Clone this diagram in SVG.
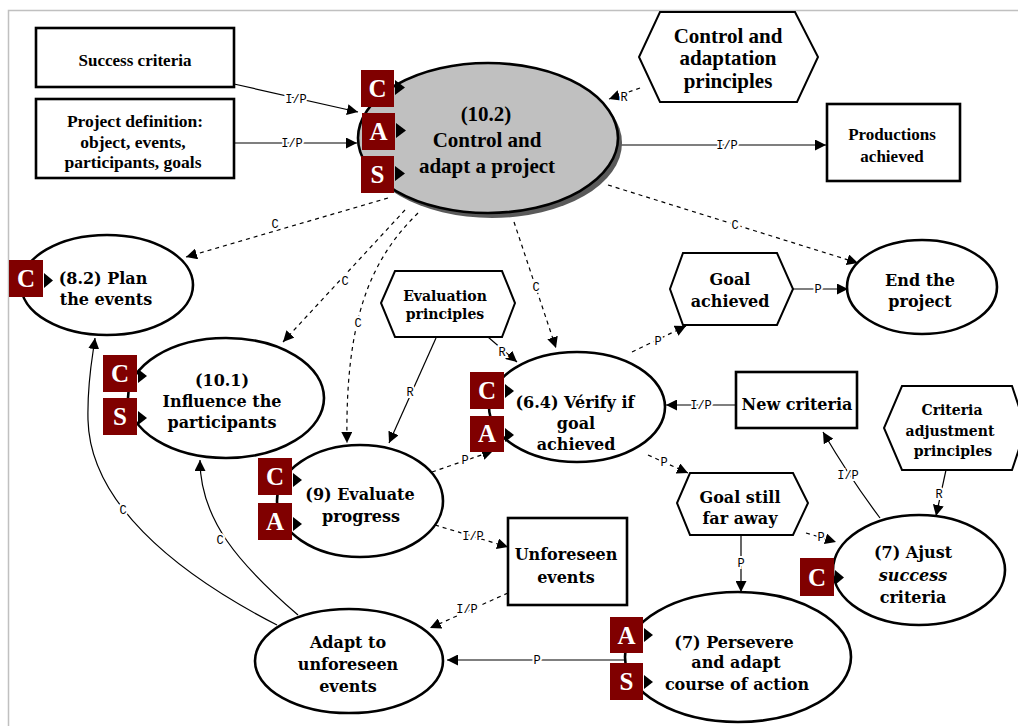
<svg xmlns="http://www.w3.org/2000/svg" width="1018" height="726" viewBox="0 0 1018 726">
  <style>
    .frame { stroke: #c0c0c0; stroke-width: 1.5; fill: none; }
    .box { fill: #fff; stroke: #000; stroke-width: 2.6; }
    .hex { fill: #fff; stroke: #000; stroke-width: 2; }
    .ell { fill: #fff; stroke: #000; stroke-width: 2.6; }
    .main { fill: #c0c0c0; stroke: #000; stroke-width: 2.6; }
    .shadow { fill: #5a5a5a; }
    .t { font-family: "DejaVu Serif", "Liberation Serif", serif; font-weight: bold; font-size: 16px; text-anchor: middle; fill: #000; }
    .tb { font-family: "Liberation Serif", "Times New Roman", serif; font-weight: bold; font-size: 21px; text-anchor: middle; fill: #000; }
    .ts { font-family: "Liberation Serif", "Times New Roman", serif; font-weight: bold; font-size: 17px; text-anchor: middle; fill: #000; }
    .tp { font-family: "DejaVu Serif", "Liberation Serif", serif; font-weight: bold; font-size: 14px; text-anchor: middle; fill: #000; }
    .tag { fill: #800000; }
    .tagt { font-family: "Liberation Serif", "Times New Roman", serif; font-weight: bold; font-size: 25px; text-anchor: middle; fill: #fff; }
    .tip { fill: #000; }
    .link { fill: none; stroke: #000; stroke-width: 1.2; marker-end: url(#arrow); }
    .dash { stroke-dasharray: 4 4; }
    .lbl { font-family: "Liberation Mono", "Courier New", monospace; font-size: 12px; text-anchor: middle; fill: #000; stroke: #fff; stroke-width: 4; paint-order: stroke; }
  </style>
  <defs>
    <marker id="arrow" viewBox="0 0 10 10" refX="10" refY="5" markerWidth="11" markerHeight="11" markerUnits="userSpaceOnUse" orient="auto">
      <path d="M0,0 L10,5 L0,10 z" fill="#000"/>
    </marker>
  </defs>

  <rect width="1018" height="726" fill="#fff"/>
  <path class="frame" d="M8.5,726 V10.5 H1018"/>

  <!-- connectors -->
  <g id="connectors">
    <path class="link" d="M234,84 L358,112"/>
    <text class="lbl" x="296" y="103">I/P</text>
    <path class="link" d="M234,143 L357,143"/>
    <text class="lbl" x="292" y="147">I/P</text>
    <path class="link dash" d="M640,88 L609,99"/>
    <text class="lbl" x="624" y="101">R</text>
    <path class="link" d="M619,145 L826,145"/>
    <text class="lbl" x="727" y="149">I/P</text>

    <path class="link dash" d="M388,198 L186,257"/>
    <text class="lbl" x="275" y="228">C</text>
    <path class="link dash" d="M405,210 L283,342"/>
    <text class="lbl" x="345" y="285">C</text>
    <path class="link dash" d="M418,213 C370,260 345,320 347,443"/>
    <text class="lbl" x="358" y="327">C</text>
    <path class="link dash" d="M514,222 L556,348"/>
    <text class="lbl" x="536" y="291">C</text>
    <path class="link dash" d="M608,185 L858,263"/>
    <text class="lbl" x="735" y="229">C</text>

    <path class="link" d="M488,337 L517,362"/>
    <text class="lbl" x="502" y="356">R</text>
    <path class="link" d="M436,338 L389,443"/>
    <text class="lbl" x="410" y="396">R</text>

    <path class="link dash" d="M432,472 L493,451"/>
    <text class="lbl" x="465" y="464">P</text>
    <path class="link dash" d="M632,352 L686,326"/>
    <text class="lbl" x="658" y="345">P</text>
    <path class="link dash" d="M648,455 L688,473"/>
    <text class="lbl" x="664" y="466">P</text>
    <path class="link" d="M736,405 L666,405"/>
    <text class="lbl" x="701" y="409">I/P</text>
    <path class="link" d="M793,289 L848,289"/>
    <text class="lbl" x="818" y="293">P</text>
    <path class="link" d="M741,535 L741,592"/>
    <text class="lbl" x="741" y="567">P</text>
    <path class="link dash" d="M806,533 L836,542"/>
    <text class="lbl" x="821" y="541">P</text>
    <path class="link" d="M946,470 L936,516"/>
    <text class="lbl" x="939" y="498">R</text>
    <path class="link" d="M880,518 Q850,478 823,432"/>
    <text class="lbl" x="848" y="479">I/P</text>

    <path class="link dash" d="M435,525 L508,547"/>
    <text class="lbl" x="473" y="540">I/P</text>
    <path class="link dash" d="M508,593 L430,628"/>
    <text class="lbl" x="467" y="613">I/P</text>
    <path class="link" d="M626,660 L447,660"/>
    <text class="lbl" x="537" y="664">P</text>

    <path class="link" d="M277,625 C170,570 90,500 88,420 C87,380 93,355 95,338"/>
    <text class="lbl" x="123" y="514">C</text>
    <path class="link" d="M298,615 C240,565 200,520 200,460"/>
    <text class="lbl" x="220" y="544">C</text>
  </g>

  <!-- input / output boxes -->
  <g id="success-criteria">
    <rect class="box" x="36" y="28" width="198" height="59"/>
    <text class="ts" x="135" y="66">Success criteria</text>
  </g>
  <g id="project-definition">
    <rect class="box" x="36" y="99" width="198" height="79"/>
    <text class="ts" x="135" y="127" style="font-size:17.5px">Project definition:</text>
    <text class="ts" x="133" y="148" style="font-size:17.5px">object, events,</text>
    <text class="ts" x="133" y="168" style="font-size:17.5px">participants, goals</text>
  </g>
  <g id="productions-achieved">
    <rect class="box" x="827" y="104" width="133" height="77"/>
    <text class="ts" x="892" y="140">Productions</text>
    <text class="ts" x="892" y="162">achieved</text>
  </g>
  <g id="new-criteria">
    <rect class="box" x="736" y="372" width="121" height="56"/>
    <text class="t" x="797" y="410">New criteria</text>
  </g>
  <g id="unforeseen-events">
    <rect class="box" x="508" y="518" width="119" height="87"/>
    <text class="t" x="566" y="560">Unforeseen</text>
    <text class="t" x="566" y="583">events</text>
  </g>

  <!-- principles -->
  <g id="control-principles">
    <polygon class="hex" points="660,12 795,12 818,57 797,102 660,102 639,57"/>
    <text class="tb" x="728" y="43">Control and</text>
    <text class="tb" x="728" y="65">adaptation</text>
    <text class="tb" x="728" y="88">principles</text>
  </g>
  <g id="evaluation-principles">
    <polygon class="hex" points="395,271 502,271 515,303 502,337 395,337 381,303"/>
    <text class="tp" x="445" y="301">Evaluation</text>
    <text class="tp" x="445" y="319">principles</text>
  </g>
  <g id="criteria-principles">
    <polygon class="hex" points="902,386 1012,386 1026,428 1012,470 902,470 884,428"/>
    <text class="tp" x="952" y="415">Criteria</text>
    <text class="tp" x="950" y="436">adjustment</text>
    <text class="tp" x="953" y="456">principles</text>
  </g>

  <!-- states -->
  <g id="goal-achieved">
    <polygon class="hex" points="683,253 777,253 793,289 777,325 683,325 670,289"/>
    <text class="t" x="730" y="285">Goal</text>
    <text class="t" x="730" y="307">achieved</text>
  </g>
  <g id="goal-far">
    <polygon class="hex" points="690,473 793,473 808,503 793,535 690,535 677,503"/>
    <text class="t" x="740" y="503">Goal still</text>
    <text class="t" x="740" y="524">far away</text>
  </g>

  <!-- processes -->
  <g id="control-project">
    <ellipse class="shadow" cx="492" cy="143" rx="130" ry="75"/>
    <ellipse class="main" cx="488" cy="138" rx="130" ry="75"/>
    <text class="tb" x="486" y="121">(10.2)</text>
    <text class="tb" x="487" y="147">Control and</text>
    <text class="tb" x="487" y="173">adapt a project</text>
    <rect class="tag" x="361" y="70" width="33" height="37"/>
    <text class="tagt" x="377.5" y="97">C</text>
    <rect class="tag" x="362" y="113" width="33" height="37"/>
    <text class="tagt" x="378.5" y="140">A</text>
    <rect class="tag" x="361" y="156" width="33" height="37"/>
    <text class="tagt" x="377.5" y="183">S</text>
    <polygon class="tip" points="395,80 405,87.5 395,95"/>
    <polygon class="tip" points="396,123 406,130.5 396,138"/>
    <polygon class="tip" points="395,166 405,173.5 395,181"/>
  </g>

  <g id="plan-events">
    <ellipse class="ell" cx="107" cy="285" rx="86" ry="50"/>
    <text class="t" x="103" y="284">(8.2) Plan</text>
    <text class="t" x="106" y="305">the events</text>
    <rect class="tag" x="9" y="260" width="34" height="37"/>
    <text class="tagt" x="26" y="287">C</text>
    <polygon class="tip" points="44,273 53,280.5 44,288"/>
  </g>

  <g id="influence">
    <ellipse class="ell" cx="226" cy="398" rx="98" ry="60"/>
    <text class="t" x="222" y="386">(10.1)</text>
    <text class="t" x="222" y="407">Influence the</text>
    <text class="t" x="222" y="428">participants</text>
    <rect class="tag" x="103" y="355" width="34" height="37"/>
    <text class="tagt" x="120" y="382">C</text>
    <rect class="tag" x="103" y="398" width="34" height="37"/>
    <text class="tagt" x="120" y="425">S</text>
    <polygon class="tip" points="138,369 147,376 138,383"/>
    <polygon class="tip" points="138,411 147,418 138,425"/>
  </g>

  <g id="evaluate">
    <ellipse class="ell" cx="360" cy="501" rx="83" ry="56"/>
    <text class="t" x="360" y="500">(9) Evaluate</text>
    <text class="t" x="361" y="522">progress</text>
    <rect class="tag" x="258" y="458" width="34" height="37"/>
    <text class="tagt" x="275" y="485">C</text>
    <rect class="tag" x="258" y="503" width="34" height="37"/>
    <text class="tagt" x="275" y="530">A</text>
    <polygon class="tip" points="293,473 302,480 293,487"/>
    <polygon class="tip" points="293,517 302,524 293,531"/>
  </g>

  <g id="verify">
    <ellipse class="ell" cx="577" cy="407" rx="88" ry="55"/>
    <text class="t" x="575" y="408">(6.4) Vérify if</text>
    <text class="t" x="576" y="429">goal</text>
    <text class="t" x="576" y="450">achieved</text>
    <rect class="tag" x="470" y="372" width="34" height="37"/>
    <text class="tagt" x="487" y="399">C</text>
    <rect class="tag" x="470" y="416" width="34" height="36"/>
    <text class="tagt" x="487" y="442">A</text>
    <polygon class="tip" points="505,384 514,391 505,398"/>
    <polygon class="tip" points="505,428 514,435 505,442"/>
  </g>

  <g id="end-project">
    <ellipse class="ell" cx="922" cy="287" rx="75" ry="47"/>
    <text class="t" x="920" y="286">End the</text>
    <text class="t" x="920" y="307">project</text>
  </g>

  <g id="adjust-criteria">
    <ellipse class="ell" cx="919" cy="570" rx="86" ry="55"/>
    <text class="t" x="913" y="558">(7) Ajust</text>
    <text class="t" x="913" y="581" font-style="italic">success</text>
    <text class="t" x="913" y="603">criteria</text>
    <rect class="tag" x="800" y="558" width="34" height="38"/>
    <text class="tagt" x="817" y="586">C</text>
    <polygon class="tip" points="835,570 844,577.5 835,585"/>
  </g>

  <g id="persevere">
    <ellipse class="ell" cx="738" cy="657" rx="113" ry="65"/>
    <text class="t" x="734" y="648">(7) Persevere</text>
    <text class="t" x="736" y="668">and adapt</text>
    <text class="t" x="737" y="690">course of action</text>
    <rect class="tag" x="610" y="617" width="33" height="36"/>
    <text class="tagt" x="626.5" y="644">A</text>
    <rect class="tag" x="610" y="663" width="33" height="37"/>
    <text class="tagt" x="626.5" y="690">S</text>
    <polygon class="tip" points="644,628 653,635 644,642"/>
    <polygon class="tip" points="644,675 653,682 644,689"/>
  </g>

  <g id="adapt-unforeseen">
    <ellipse class="ell" cx="349" cy="661" rx="94" ry="52"/>
    <text class="t" x="348" y="648">Adapt to</text>
    <text class="t" x="348" y="670">unforeseen</text>
    <text class="t" x="348" y="692">events</text>
  </g>
</svg>
